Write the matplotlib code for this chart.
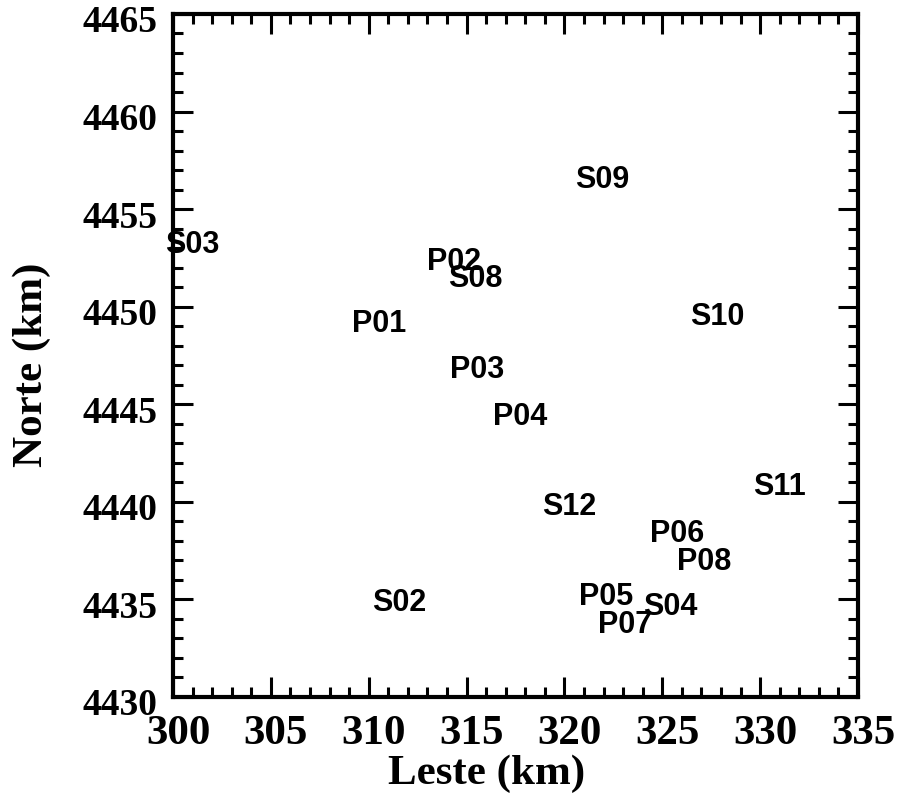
import matplotlib
matplotlib.use("Agg")
import matplotlib.pyplot as plt
from matplotlib.ticker import MultipleLocator
from matplotlib.transforms import ScaledTranslation

# station names and label anchor (left edge, baseline) in km
stations = ["S03", "P02", "S08", "P01", "S09", "S10", "P03", "P04",
            "S11", "S12", "P06", "P08", "S02", "P05", "S04", "P07"]
leste = [299.6, 313.0, 314.05, 309.15, 320.55, 326.4, 314.15, 316.35,
         329.65, 318.85, 324.35, 325.75, 310.15, 320.75, 324.0, 321.7]
norte = [4452.75, 4451.9, 4451.0, 4448.7, 4456.1, 4449.05, 4446.35, 4443.95,
         4440.35, 4439.35, 4437.95, 4436.5, 4434.4, 4434.7, 4434.2, 4433.3]

x_range = (300, 335)
y_range = (4430, 4465)

fig = plt.figure(figsize=(9.04, 7.98), dpi=100)
ax = fig.add_axes([0.1914, 0.1266, 0.7577, 0.8559])

for name, x, y in zip(stations, leste, norte):
    ax.text(x, y, name, ha="left", va="baseline", fontsize=22,
            family="Liberation Sans", fontweight="bold", clip_on=False)

ax.set_xlim(*x_range)
ax.set_ylim(*y_range)
ax.xaxis.set_major_locator(MultipleLocator(5))
ax.xaxis.set_minor_locator(MultipleLocator(1))
ax.yaxis.set_major_locator(MultipleLocator(5))
ax.yaxis.set_minor_locator(MultipleLocator(1))

ax.tick_params(which="both", direction="in", top=True, right=True, width=2.2)
ax.tick_params(which="major", length=14.5)
ax.tick_params(which="minor", length=7)
ax.tick_params(axis="x", which="major", pad=13)
ax.tick_params(axis="y", which="major", pad=11)
for s in ax.spines.values():
    s.set_linewidth(3)

shift_x = ScaledTranslation(5 / 100, 0, fig.dpi_scale_trans)
shift_y = ScaledTranslation(0, -5 / 100, fig.dpi_scale_trans)
for lab in ax.get_xticklabels():
    lab.set_family("Liberation Serif")
    lab.set_fontweight("bold")
    lab.set_fontsize(31)
    lab.set_transform(lab.get_transform() + shift_x)
for lab in ax.get_yticklabels():
    lab.set_family("Liberation Serif")
    lab.set_fontweight("bold")
    lab.set_fontsize(27)
    lab.set_transform(lab.get_transform() + shift_y)

ax.set_xlabel("Leste (km)", family="Liberation Serif", fontweight="bold", fontsize=31)
ax.set_ylabel("Norte (km)", family="Liberation Serif", fontweight="bold", fontsize=31)
ax.xaxis.set_label_coords(0.458, -0.085)
ax.yaxis.set_label_coords(-0.178, 0.486)

fig.savefig("out.png", dpi=100)
